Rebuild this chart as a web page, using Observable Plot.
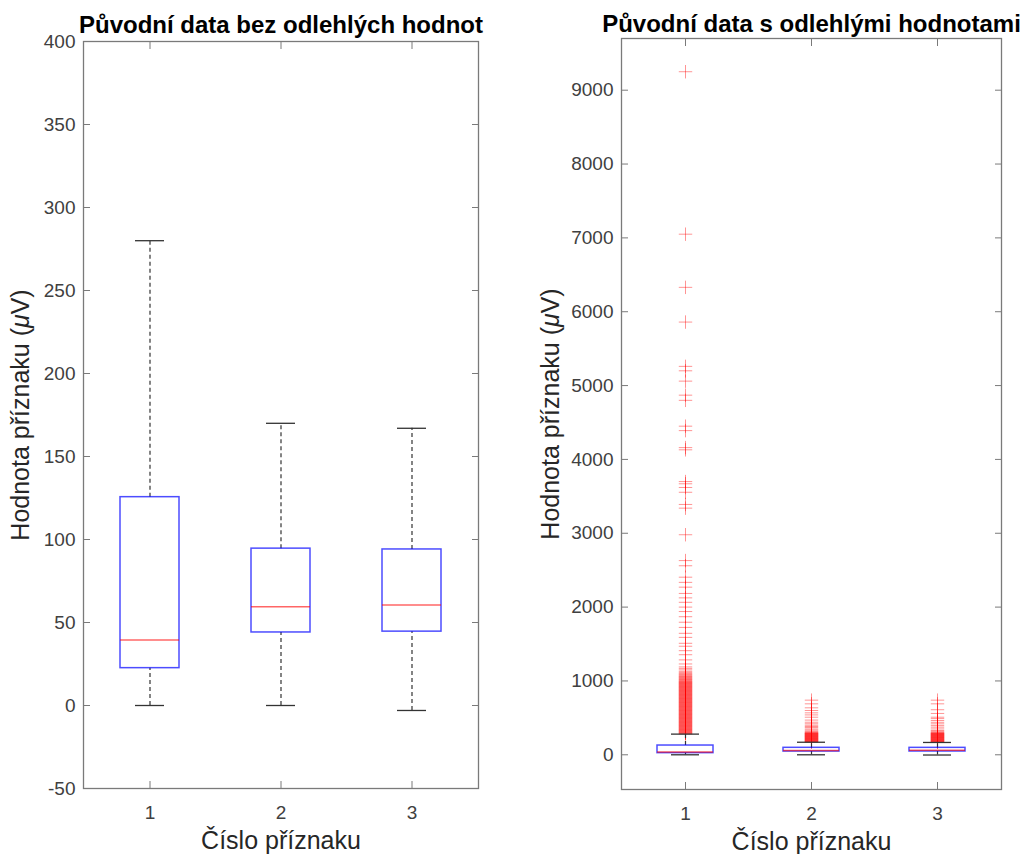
<!DOCTYPE html>
<html>
<head>
<meta charset="utf-8">
<script src="https://cdn.jsdelivr.net/npm/d3@7"></script>
<script src="https://cdn.jsdelivr.net/npm/@observablehq/plot@0.6"></script>
<style>
  body { margin: 0; background: #fff; }
  #wrap { position: relative; width: 1025px; height: 854px; overflow: hidden; }
  #wrap svg { position: absolute; top: 0; }
  #wrap svg text { font-family: "Liberation Sans", Arial, Helvetica, sans-serif; }
  [aria-label="y-axis tick label"], [aria-label="x-axis tick label"] { font-size: 19px; fill: #404040; }
  [aria-label="y-axis label"], [aria-label="x-axis label"] { font-size: 25px; fill: #262626; }
</style>
</head>
<body>
<div id="wrap"></div>
<script>
// ---------- data ----------
const categories = ["1", "2", "3"];

const titleLeft = "Původní data bez odlehlých hodnot";
const titleRight = "Původní data s odlehlými hodnotami";
const xLabel = "Číslo příznaku";
const yLabel = "Hodnota příznaku (μV)";

// box statistics (same features in both panels)
const whiskerLow  = [0, 0, -3];
const quart1      = [22.5, 44, 44.5];
const medians     = [39.5, 59.5, 60.5];
const quart3      = [125.5, 94.5, 94];
const whiskerHigh = [280, 170, 167];

const yTicksLeft  = [-50, 0, 50, 100, 150, 200, 250, 300, 350, 400];
const yDomainLeft = [-50, 400];
const yTicksRight  = [0, 1000, 2000, 3000, 4000, 5000, 6000, 7000, 8000, 9000];
const yDomainRight = [-470, 9700];

// outliers
const outliers1 = [
  282, 288, 294, 300, 306, 312, 318, 324, 330, 336, 342, 348, 354, 360, 366, 372, 378, 384, 390, 396,
  402, 408, 414, 420, 426, 432, 438, 444, 450, 456, 462, 468, 474, 480, 486, 492, 498, 504, 510, 516,
  522, 528, 534, 540, 546, 552, 558, 564, 570, 576, 582, 588, 594, 600, 606, 612, 618, 624, 630, 636,
  642, 648, 654, 660, 666, 672, 678, 684, 690, 696, 702, 708, 714, 720, 726, 732, 738, 744, 750, 756,
  762, 768, 774, 780, 786, 792, 798, 804, 810, 816, 822, 828, 834, 840, 846, 852, 858, 864, 870, 876,
  882, 888, 894, 900, 906, 912, 918, 924, 930, 936, 942, 948, 954, 960, 966, 972, 978, 984, 990, 996,
  1004, 1012, 1020, 1028, 1036, 1044, 1052, 1060, 1070, 1080, 1090, 1100, 1115, 1130, 1150, 1170, 1190,
  1230, 1285, 1355, 1410, 1470, 1510, 1590, 1645, 1725, 1795, 1870, 1940, 2000, 2065, 2125, 2185,
  2270, 2335, 2405, 2560, 2630, 2980, 3340, 3390, 3555, 3620, 3670, 3700, 4130, 4160, 4390, 4450,
  4800, 4870, 5060, 5200, 5260, 5860, 6330, 7050, 9250];
const outliers2 = [
  172, 176, 180, 184, 188, 192, 196, 200, 204, 208, 212, 216, 220, 224, 228, 232, 236, 240, 244, 248,
  252, 256, 260, 264, 268, 272, 276, 280, 284, 288, 292, 296, 300,
  310, 320, 335, 350, 370, 383, 400, 420, 441, 470, 509, 540, 568, 600, 636, 690, 740];
const outliers3 = [
  170, 174, 178, 182, 186, 190, 194, 198, 202, 206, 210, 214, 218, 222, 226, 230, 234, 238, 242, 246,
  250, 254, 258, 262, 266, 270, 274, 278, 282, 286, 290, 294, 298,
  306, 318, 329, 350, 374, 395, 419, 440, 464, 490, 509, 560, 610, 690, 740];

// ---------- drawing ----------
const FONT = '"Liberation Sans", Arial, Helvetica, sans-serif';
const fmt = d => String(d);

function panel(o) {
  const rows = categories.map((c, i) => ({
    c, lo: whiskerLow[i], q1: quart1[i], med: medians[i], q3: quart3[i], hi: whiskerHigh[i]
  }));
  const outs = o.outliers
    ? o.outliers.flatMap((arr, i) => arr.map(v => ({ c: categories[i], v })))
    : [];
  return Plot.plot({
    width: o.width,
    height: 854,
    marginLeft: o.ml,
    marginRight: o.mr,
    marginTop: o.mt,
    marginBottom: o.mb,
    style: { fontFamily: FONT, background: "transparent", overflow: "visible" },
    x: { type: "band", domain: categories, padding: 0 },
    y: { domain: o.domain },
    marks: [
      Plot.frame({ stroke: "#7a7a7a", strokeWidth: 1.3 }),
      Plot.axisY({ anchor: "left", ticks: o.ticks, tickFormat: fmt, tickSize: -7, tickPadding: 15, stroke: "#7a7a7a",
        label: yLabel, labelArrow: "none", labelAnchor: "center", labelOffset: o.yLabelOffset }),
      Plot.axisY({ anchor: "right", ticks: o.ticks, tickSize: -7, tickFormat: () => "", label: null, stroke: "#7a7a7a" }),
      Plot.axisX({ anchor: "bottom", tickSize: -7, tickPadding: 24, stroke: "#7a7a7a",
        label: xLabel, labelArrow: "none", labelAnchor: "center", labelOffset: 60 }),
      Plot.axisX({ anchor: "top", tickSize: -7, tickFormat: () => "", label: null, stroke: "#7a7a7a" }),
      Plot.dot(outs, { x: "c", y: "v", symbol: "plus", r: 4.4, fill: "none", stroke: "#ff0000", strokeOpacity: 0.42, strokeWidth: 1 }),
      Plot.ruleX(rows, { x: "c", y1: "q3", y2: "hi", stroke: "#333", strokeWidth: 1.2, strokeDasharray: "4,3" }),
      Plot.ruleX(rows, { x: "c", y1: "lo", y2: "q1", stroke: "#333", strokeWidth: 1.2, strokeDasharray: "4,3" }),
      Plot.tickY(rows, { x: "c", y: "hi", insetLeft: o.capInset, insetRight: o.capInset, stroke: "#333", strokeWidth: 1.3 }),
      Plot.tickY(rows, { x: "c", y: "lo", insetLeft: o.capInset, insetRight: o.capInset, stroke: "#333", strokeWidth: 1.3 }),
      Plot.barY(rows, { x: "c", y1: "q1", y2: "q3", insetLeft: o.boxInset, insetRight: o.boxInset, fill: "none", stroke: "#0000ff", strokeOpacity: 0.7, strokeWidth: 1.5 }),
      Plot.tickY(rows, { x: "c", y: "med", insetLeft: o.boxInset, insetRight: o.boxInset, stroke: "#ff0000", strokeOpacity: 0.6, strokeWidth: 1.5 }),
      Plot.text([o.title], { text: d => d, frameAnchor: "top", dy: o.titleDy, lineAnchor: "bottom",
        fontSize: 24, fontWeight: "bold", fill: "#000" })
    ]
  });
}

const left = panel({
  width: 512, ml: 83, mr: 34, mt: 41, mb: 66,
  domain: yDomainLeft, ticks: yTicksLeft, outliers: null,
  boxInset: 36, capInset: 51, yLabelOffset: 72, title: titleLeft, titleDy: -9
});
const right = panel({
  width: 513, ml: 109, mr: 24, mt: 38, mb: 65,
  domain: yDomainRight, ticks: yTicksRight, outliers: [outliers1, outliers2, outliers3],
  boxInset: 35, capInset: 49, yLabelOffset: 80, title: titleRight, titleDy: -7
});

left.style.left = "0px";
right.style.left = "512px";

// italic mu in the y labels
for (const svg of [left, right]) {
  svg.querySelectorAll("text").forEach(t => {
    if (t.textContent.includes("μ") && t.children.length === 0) {
      const s = t.textContent;
      const i = s.indexOf("μ");
      t.textContent = "";
      const ns = "http://www.w3.org/2000/svg";
      const a = document.createElementNS(ns, "tspan"); a.textContent = s.slice(0, i);
      const b = document.createElementNS(ns, "tspan"); b.textContent = "μ"; b.setAttribute("font-style", "italic");
      const c = document.createElementNS(ns, "tspan"); c.textContent = s.slice(i + 1);
      t.append(a, b, c);
    }
  });
}

document.getElementById("wrap").append(left, right);
</script>
</body>
</html>
